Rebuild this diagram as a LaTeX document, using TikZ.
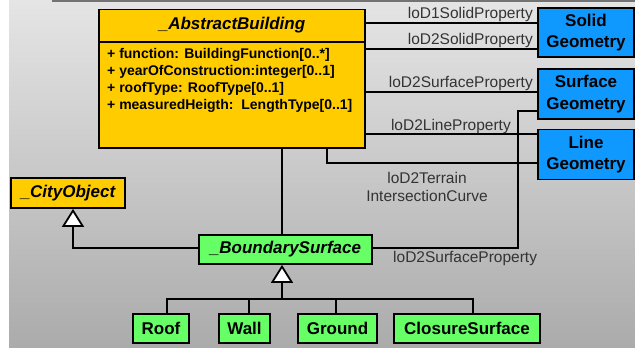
\documentclass[tikz,border=0pt]{standalone}
\usepackage{fontspec}
\setmainfont{Liberation Sans}
\usetikzlibrary{arrows.meta}
\definecolor{ybox}{HTML}{FFCC00}
\definecolor{bbox}{HTML}{0F99FF}
\definecolor{gbox}{HTML}{66FF66}
\definecolor{bgtop}{HTML}{E5E5E5}
\definecolor{bgbot}{HTML}{ABABAB}
\definecolor{lbl}{HTML}{333333}
\begin{document}
\begin{tikzpicture}[x=1pt,y=-1pt,
  box/.style={draw=black,line width=1.8pt,inner sep=0pt,align=center,
    font=\fontsize{17}{21.5}\selectfont\bfseries},
  ibox/.style={box,font=\fontsize{17}{19}\selectfont\bfseries\itshape},
  attr/.style={anchor=base west,inner sep=0pt,font=\fontsize{14}{16}\selectfont\bfseries},
  lab/.style={inner sep=0pt,text=lbl,font=\fontsize{15.5}{18}\selectfont},
  conn/.style={draw=black,line width=1.8pt},
  gen/.style={conn,-{Triangle[open,width=22pt,length=18pt,fill=white,line width=1.8pt]}}]
\useasboundingbox (0,0) rectangle (635,348);
\shade[top color=bgtop,bottom color=bgbot] (9,0) rectangle (635,347);
\fill[gray!90!black] (52,0) rectangle (635,1.5);

% main class
\node[box,fill=ybox,minimum width=266pt,minimum height=138.5pt] (ab) at (232,78.75) {};
\node[inner sep=0pt,font=\fontsize{17}{19}\selectfont\bfseries\itshape] (abt) at (232,25) {\_AbstractBuilding};
\draw[line width=1.8pt] (ab.west |- 0,42) coordinate (d1) -- (ab.east |- 0,42) coordinate (d2);
\node[attr] (a1) at (107,58) {+ function: BuildingFunction[0..*]};
\node[attr] (a2) at (107,75) {+ yearOfConstruction:integer[0..1]};
\node[attr] (a3) at (107,92) {+ roofType: RoofType[0..1]};
\node[attr] (a4) at (107,109) {+ measuredHeigth:\ \ LengthType[0..1]};

% geometry classes
\node[box,fill=bbox,minimum width=96pt,minimum height=49pt] (solid) at (586,32.5) {Solid\\Geometry};
\node[box,fill=bbox,minimum width=96pt,minimum height=50pt] (surf) at (586,94) {Surface\\Geometry};
\node[box,fill=bbox,minimum width=96pt,minimum height=50pt] (line) at (586,154.5) {Line\\Geometry};

% other classes
\node[ibox,fill=ybox,minimum width=114pt,minimum height=30pt] (co) at (68,193) {\_CityObject};
\node[ibox,fill=gbox,minimum width=173pt,minimum height=29pt] (bs) at (285.5,249.5) {\_BoundarySurface};
\node[box,fill=gbox,minimum width=56pt,minimum height=29pt] (roof) at (161,328.5) {Roof};
\node[box,fill=gbox,minimum width=51pt,minimum height=29pt] (wall) at (244.5,328.5) {Wall};
\node[box,fill=gbox,minimum width=79pt,minimum height=29pt] (ground) at (337.5,328.5) {Ground};
\node[box,fill=gbox,minimum width=146pt,minimum height=29pt] (cs) at (467,328.5) {ClosureSurface};

% helper coordinates
\coordinate (y1) at (0,23);
\coordinate (y2) at (0,49);
\coordinate (y3) at (0,92);
\coordinate (y4) at (0,134);
\coordinate (y5) at (0,163);
\coordinate (y6) at (0,111);
\coordinate (y7) at (0,248);
\coordinate (ybar) at (0,299);
\coordinate (xt) at (327,0);
\coordinate (xs) at (518,0);
\coordinate (xv) at (282,0);
\coordinate (xc) at (73,0);
\coordinate (xr) at (167,0);
\coordinate (xw) at (249,0);
\coordinate (xg) at (336,0);
\coordinate (xcs) at (473,0);

% associations
\draw[conn] (ab.east|-y1) -- (solid.west|-y1);
\draw[conn] (ab.east|-y2) -- (solid.west|-y2);
\draw[conn] (ab.east|-y3) -- (surf.west|-y3);
\draw[conn] (ab.east|-y4) -- (line.west|-y4);
\draw[conn] (ab.south-|xt) -- (xt|-y5) -- (line.west|-y5);
\draw[conn] (surf.west|-y6) -- (xs|-y6) -- (xs|-y7) -- (bs.east|-y7);
\draw[conn] (ab.south-|xv) -- (bs.north-|xv);

\node[lab,anchor=base east] (l1) at (533,18) {loD1SolidProperty};
\node[lab,anchor=base east] (l2) at (533,44) {loD2SolidProperty};
\node[lab,anchor=base east] (l3) at (533,87) {loD2SurfaceProperty};
\node[lab,anchor=base east] (l4) at (511,130.5) {loD2LineProperty};
\node[lab,anchor=base] (l5) at (427,183) {loD2Terrain};
\node[lab,anchor=base] (l6) at (427,201) {IntersectionCurve};
\node[lab,anchor=base west] (l7) at (393,262) {loD2SurfaceProperty};

% generalizations
\draw[gen] (bs.west|-y7) -- (xc|-y7) -- (co.south-|xc);
\draw[conn] (roof.north-|xr) -- (xr|-ybar) -- (xcs|-ybar) -- (cs.north-|xcs);
\draw[conn] (wall.north-|xw) -- (xw|-ybar);
\draw[conn] (ground.north-|xg) -- (xg|-ybar);
\draw[gen] (xv|-ybar) -- (bs.south-|xv);
\end{tikzpicture}
\end{document}
